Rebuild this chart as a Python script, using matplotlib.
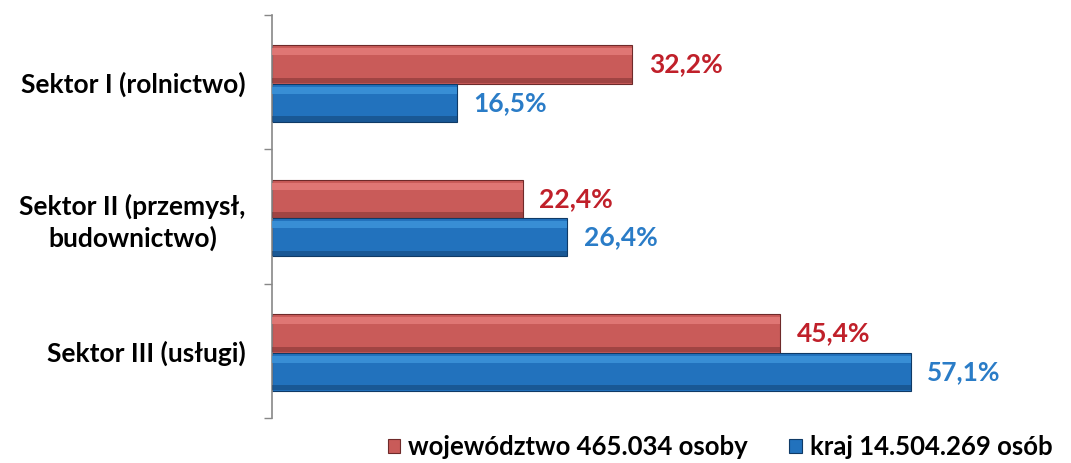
import matplotlib
matplotlib.use("Agg")
import matplotlib.pyplot as plt
import numpy as np

plt.rcParams['font.family'] = ['Lato', 'DejaVu Sans']

categories = ["Sektor I (rolnictwo)", "Sektor II (przemysł,\nbudownictwo)", "Sektor III (usługi)"]
woj_values = [32.2, 22.4, 45.4]
kraj_values = [16.5, 26.4, 57.1]
woj_labels = ["32,2%", "22,4%", "45,4%"]
kraj_labels = ["16,5%", "26,4%", "57,1%"]
series_names = ["województwo 465.034 osoby", "kraj 14.504.269 osób"]

red_face = "#c95b59"
red_light = "#e57d7b"
red_dark = "#6e2a2a"
blue_face = "#2272bd"
blue_light = "#3e96dc"
blue_dark = "#0f3a66"
red_text = "#c0202a"
blue_text = "#2a7cc7"

fig = plt.figure(figsize=(10.71, 4.63), dpi=100)
ax = fig.add_axes([0.254, 0.097, 0.71, 0.871])

y = np.arange(len(categories))
h = 0.285
y_red = y - 0.13
y_blue = y + 0.155


def bevel_bars(ypos, vals, face, light, dark, label):
    bars = ax.barh(ypos, vals, height=h, color=face, edgecolor=dark, linewidth=0.8, label=label, zorder=2)
    # lighter top strip and darker bottom strip to mimic the bevel
    ax.barh(ypos - h * 0.33, vals, height=h * 0.18, color=light, alpha=0.8, linewidth=0, zorder=3)
    ax.barh(ypos + h * 0.42, vals, height=h * 0.14, color=dark, alpha=0.45, linewidth=0, zorder=3)
    return bars


bevel_bars(y_red, woj_values, red_face, red_light, red_dark, series_names[0])
bevel_bars(y_blue, kraj_values, blue_face, blue_light, blue_dark, series_names[1])

for yy, v, t in zip(y_red, woj_values, woj_labels):
    ax.text(v + 1.5, yy, t, color=red_text, fontsize=19, fontweight='bold', va='center', ha='left')
for yy, v, t in zip(y_blue, kraj_values, kraj_labels):
    ax.text(v + 1.5, yy, t, color=blue_text, fontsize=19, fontweight='bold', va='center', ha='left')

ax.set_xlim(0, 68)
ax.set_ylim(2.5, -0.5)
ax.set_xticks([])
ax.set_yticks(y)
ax.set_yticklabels(categories, fontsize=19, fontweight='bold', linespacing=1.35,
                   multialignment='center')
ax.tick_params(axis='y', which='major', length=0, pad=19)
ax.set_yticks([-0.5, 0.5, 1.5, 2.5], minor=True)
ax.tick_params(axis='y', which='minor', length=6, color='#888888', width=1)
for s in ['top', 'right', 'bottom']:
    ax.spines[s].set_visible(False)
ax.spines['left'].set_color('#888888')
ax.spines['left'].set_linewidth(1.2)

ax.legend(loc='center', bbox_to_anchor=(0.589, -0.072), ncol=2, frameon=False,
          prop={'size': 18.5, 'weight': 'bold'}, handlelength=0.5, handleheight=0.5,
          handletextpad=0.3, columnspacing=1.6, borderpad=0)

fig.savefig("out.png", dpi=100)
